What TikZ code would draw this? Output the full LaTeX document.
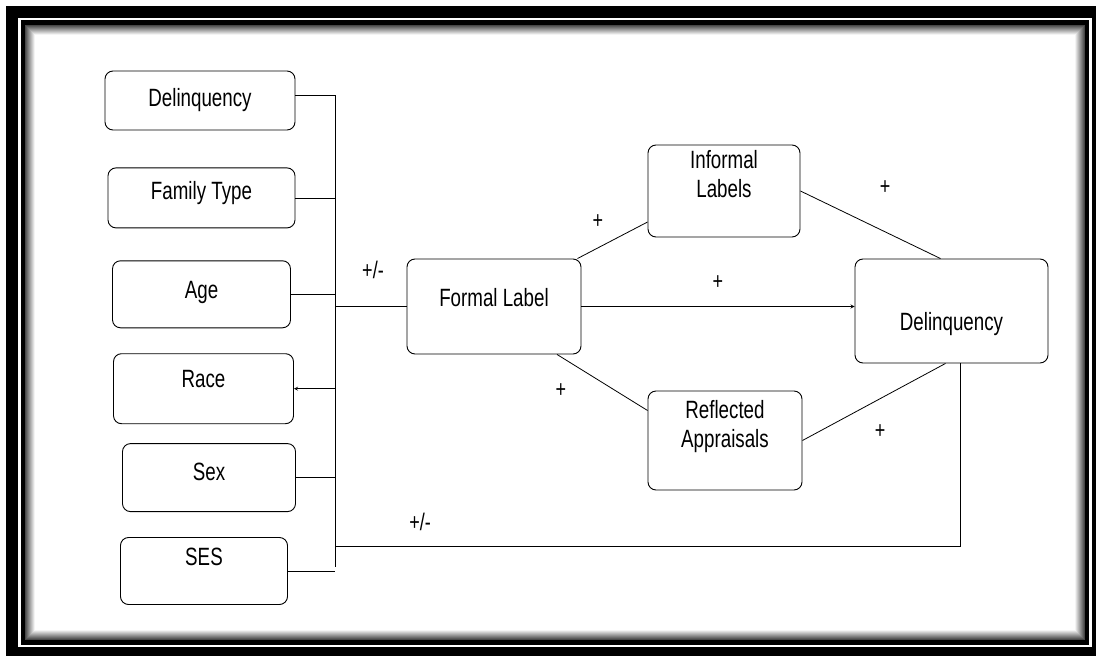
\documentclass[tikz,border=0pt]{standalone}
\usepackage{fontspec}
\setmainfont{Liberation Sans}[FakeStretch=0.75]
\usetikzlibrary{positioning}

\begin{document}
\begin{tikzpicture} [
        x=1pt, y=-1pt,
        varnode/.style={
            rectangle,
            draw,
            rounded corners=8pt,
            line width=0.9pt,
            align=center,
            font=\fontsize{25}{29}\selectfont,
            text height=18pt,
            text depth=5pt
        },
        signnode/.style={
            font=\fontsize{24}{26}\selectfont
        },
        link/.style={
            line width=0.8pt
        }
    ]

        \useasboundingbox (0,0) rectangle (1096,656);

        % frame with shadow
        \fill (6,6) rectangle (1096,656);
        \fill[white] (18,18) rectangle (1092,647);
        \fill (21,20) rectangle (1089,645);
        \fill[white] (25,25) rectangle (1085,640);
        \foreach \i [evaluate=\i as \g using 72-7.5*\i] in {0,...,9}
            \draw[black!\g, line width=1.1pt] (25.5+\i,25.5+\i) rectangle (1084.5-\i,639.5-\i);

        % left column
        \node[varnode, minimum width=190pt, minimum height=59pt, text depth=7pt]  (vn0) at (200,100.5) {Delinquency};
        \node[varnode, minimum width=187pt, minimum height=60pt, text depth=14pt] (vn1) [below=37pt of vn0, xshift=1.5pt] {Family Type};
        \node[varnode, minimum width=178pt, minimum height=67pt, text depth=9pt]  (vn2) [below=32pt of vn1] {Age};
        \node[varnode, minimum width=180pt, minimum height=70pt, text depth=20pt] (vn3) [below=25pt of vn2, xshift=2pt] {Race};
        \node[varnode, minimum width=173pt, minimum height=68pt, text depth=12pt] (vn4) [below=19pt of vn3, xshift=5.5pt] {Sex};
        \node[varnode, minimum width=167pt, minimum height=67pt, text depth=29pt] (vn5) [below=25pt of vn4, xshift=-5pt] {SES};

        % middle and right
        \node[varnode, minimum width=174pt, minimum height=95pt, text depth=19pt] (formal)    at (494,306.5) {Formal Label};
        \node[varnode, minimum width=152pt, minimum height=92pt]                  (informal)  at (724,191)   {Informal\\Labels};
        \node[varnode, minimum width=154pt, minimum height=99pt]                  (reflected) at (725,440.5) {Reflected\\Appraisals};
        \node[varnode, minimum width=193pt, minimum height=104pt, text height=38pt, text depth=0pt] (delinq) at (951.5,311) {Delinquency};

        % bus
        \coordinate (bustop) at (335,95);
        \coordinate (busbot) at (335,567);
        \coordinate (busfb)  at (335,546);

        \draw[link] (bustop) -- (busbot);
        \draw[link] (vn0.east |- bustop) -- (bustop);
        \draw[link] (vn1.east) -- (vn1.east -| bustop);
        \draw[link] (vn2.east) -- (vn2.east -| bustop);
        \draw[link, ->, >=stealth] (vn3.east -| bustop) -- (vn3.east);
        \draw[link] (vn4.east) -- (vn4.east -| bustop);
        \draw[link] (vn5.east) -- (vn5.east -| bustop);
        \draw[link] (formal.west -| bustop) -- (formal.west);

        % paths
        \draw[link] ([xshift=-4pt]formal.north east) -- ([yshift=-31pt]informal.west);
        \draw[link, ->, >=stealth] (formal.east) -- (formal.east -| delinq.west);
        \draw[link] (informal.east) -- ([xshift=-11pt]delinq.north);
        \draw[link] ([xshift=63pt]formal.south) -- ([yshift=30pt]reflected.west);
        \draw[link] (reflected.east) -- ([xshift=-6pt]delinq.south);
        \draw[link] ([xshift=9pt]delinq.south) |- (busfb);

        % signs
        \node[signnode] (s0) at (373,270) {+/-};
        \node[signnode] (s1) at (598,222) {+};
        \node[signnode] (s2) at (718,283) {+};
        \node[signnode] (s3) at (885,188) {+};
        \node[signnode] (s4) at (561,391) {+};
        \node[signnode] (s5) at (880,432) {+};
        \node[signnode] (s6) at (420,522) {+/-};

    \end{tikzpicture}
\end{document}
